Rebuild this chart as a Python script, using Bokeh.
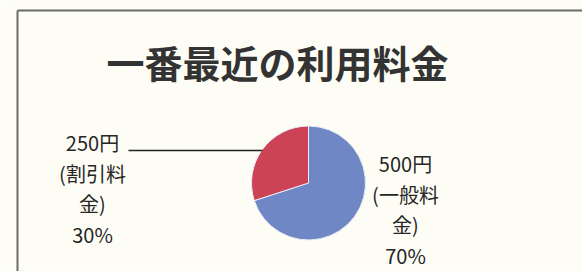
import math
from bokeh.plotting import figure
from bokeh.models import Range1d, ColumnDataSource
from bokeh.core.properties import value
from bokeh.embed import file_html
from bokeh.resources import INLINE

# ---- data ----
title = "一番最近の利用料金"
categories = ["一般料金", "割引料金"]
prices = ["500円", "250円"]
percents = [70, 30]
colors = ["#6F87C5", "#CC4356"]

W, H = 582, 271
BG = "#FDFDF5"
FONT = "Noto Sans CJK JP"

# pixel-like coordinates: x = image x, y = 271 - image y
def Y(img_y):
    return H - img_y

p = figure(width=W, height=H, output_backend="svg", toolbar_location=None,
           x_range=Range1d(0, W), y_range=Range1d(0, H),
           min_border=0, background_fill_color=BG, border_fill_color=BG)
p.axis.visible = False
p.grid.visible = False
p.outline_line_color = None

# frame lines (scanned slide border)
p.segment(x0=[17, 17], y0=[Y(10), Y(10)], x1=[17, W], y1=[Y(271), Y(10)],
          line_color="#6a6a6a", line_width=2)

# title
p.text(x=[277], y=[Y(61)], text=[title], text_font=value(FONT),
       text_font_size="38px", text_font_style="bold", text_color="#333333",
       text_align="center", text_baseline="middle")

# pie
cx, cy, r = 308, Y(182.5), 57
total = sum(percents)
starts, ends = [], []
c = 0.0
for v in percents:
    starts.append(math.pi / 2 - 2 * math.pi * c / total)
    c += v
    ends.append(math.pi / 2 - 2 * math.pi * c / total)
src = ColumnDataSource(dict(start=starts, end=ends, color=colors, cat=categories))
p.wedge(x=cx, y=cy, radius=r, radius_units="screen", start_angle="start",
        end_angle="end", direction="clock", fill_color="color",
        line_color="#E8ECF4", line_width=1, source=src)

# labels
labels = [f"{pr}\n({cat[:3]}\n{cat[3:]})\n{pc}%" for pr, cat, pc in zip(prices, categories, percents)]
lx = [405, 92]
ly = [Y(209), Y(188)]
p.text(x=lx, y=ly, text=labels, text_font=value(FONT), text_font_size="20px",
       text_color="#262626", text_align="center", text_baseline="middle",
       text_line_height=1.05)

# leader line for the small slice label
p.segment(x0=[128], y0=[Y(150)], x1=[262], y1=[Y(150)], line_color="#222222", line_width=1.3)

open("out.html", "w").write(file_html(p, INLINE))
